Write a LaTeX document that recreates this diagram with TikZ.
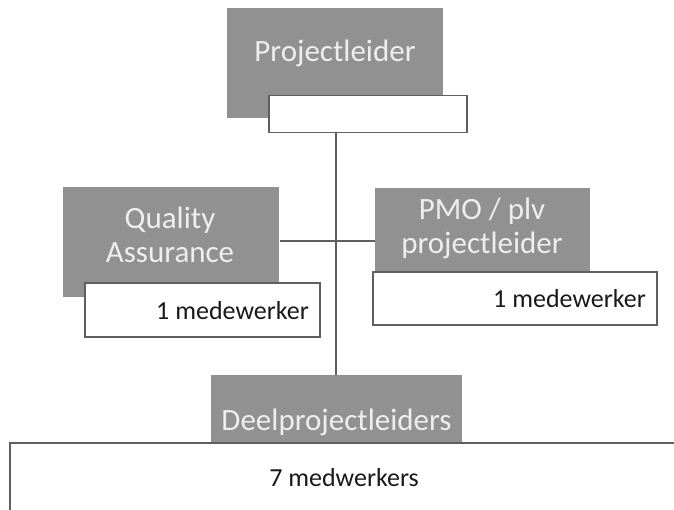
\documentclass[tikz,border=0pt]{standalone}
\usepackage{fontspec}
\setmainfont{Carlito}
\definecolor{boxgray}{RGB}{145,145,145}
\definecolor{edgegray}{RGB}{95,95,95}
\definecolor{txtdark}{RGB}{25,25,25}
\definecolor{txtlight}{RGB}{238,238,238}
\begin{document}
\begin{tikzpicture}[x=1pt,y=-1pt,
  graybox/.style={fill=boxgray,draw=none},
  whitebox/.style={fill=white,draw=edgegray,line width=1.1pt},
  graytext/.style={text=txtlight,font=\fontsize{31}{34}\selectfont,align=center,inner sep=0pt},
  whitetext/.style={text=txtdark,font=\fontsize{26}{29}\selectfont,inner sep=0pt},
  conn/.style={draw=edgegray,line width=1.1pt}]
\useasboundingbox[fill=white] (0,0) rectangle (674,510);
% Projectleider
\path[graybox] (227,8) rectangle (443,118);
\node[whitebox,minimum width=198pt,minimum height=37pt,inner sep=0pt] (pw) at (368,114) {};
\node[graytext] (pl) at (335,53) {Projectleider};
% Quality Assurance
\path[graybox] (63,187) rectangle (279,297);
\node[coordinate] (qa) at (280,241) {};
\node[graytext] (qat) at (170,235) {Quality\\Assurance};
\node[whitebox,minimum width=235pt,minimum height=54pt,inner sep=0pt] (qaw) at (202.5,310) {};
\node[whitetext,anchor=east] (qam) at (309,311) {1 medewerker};
% PMO
\path[graybox] (375,188) rectangle (590,272);
\node[coordinate] (pmo) at (375,241) {};
\node[graytext] (pmot) at (482,228) {PMO / plv\\projectleider};
\node[whitebox,minimum width=284pt,minimum height=53pt,inner sep=0pt] (pmow) at (515,298.5) {};
\node[whitetext,anchor=east] (pmom) at (646,299) {1 medewerker};
% Deelprojectleiders
\node[graybox,minimum width=251pt,minimum height=68pt,inner sep=0pt] (dl) at (336.5,409) {};
\node[graytext] (dlt) at (336.5,422) {Deelprojectleiders};
\path[whitebox] (10,443) rectangle (690,530);
\node[whitetext] (dlm) at (344,478) {7 medwerkers};
% connectors
\coordinate (mid) at (336,241);
\draw[conn] (pw.south -| mid) -- (dl.north -| mid);
\draw[conn] (qa) -- (pmo);
\end{tikzpicture}
\end{document}
